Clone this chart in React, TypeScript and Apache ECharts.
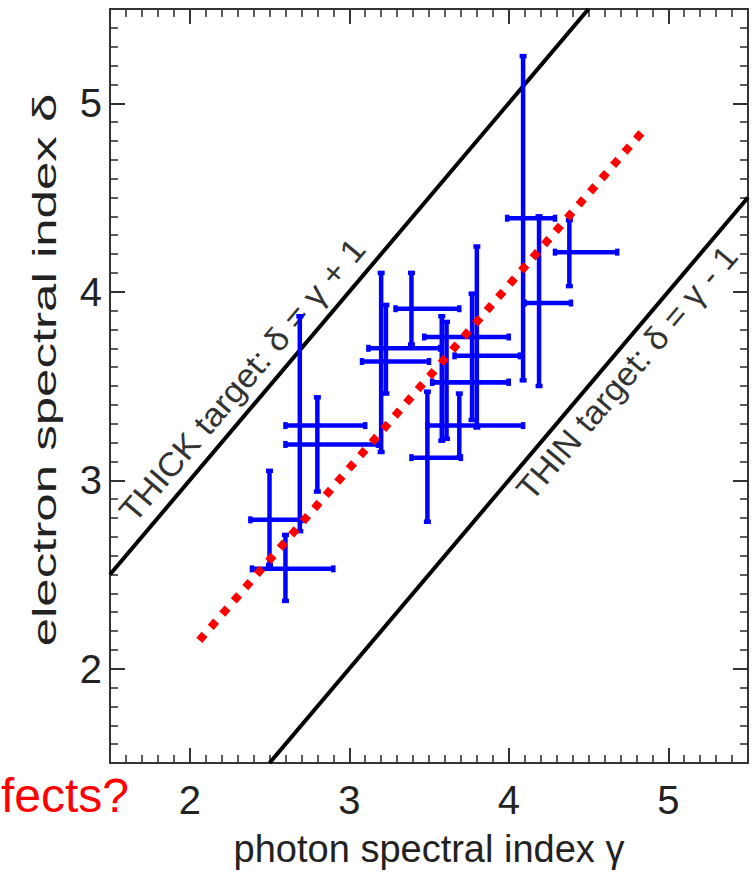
import React, { useEffect, useRef } from "react";
import * as echarts from "echarts";

// ---- data ----
const xTickValues = [2, 3, 4, 5];
const yTickValues = [2, 3, 4, 5];

// error-bar crosses: photon index gamma (x), electron index delta (y)
const gamma = [2.6, 2.5, 2.69, 2.8, 3.2, 3.23, 3.39, 3.49, 3.58, 3.61, 3.69, 3.77, 3.8, 4.09, 4.19, 4.38];
const delta = [2.53, 2.79, 3.29, 3.19, 3.63, 3.7, 3.91, 3.12, 3.52, 3.52, 3.29, 3.66, 3.76, 4.39, 3.94, 4.21];
const gammaLow = [2.39, 2.38, 2.6, 2.6, 3.08, 3.12, 3.29, 3.39, 3.52, 3.52, 3.49, 3.66, 3.47, 3.99, 4.1, 4.29];
const gammaHigh = [2.9, 2.7, 3.1, 3.18, 3.5, 3.57, 3.69, 3.7, 4.0, 4.0, 4.09, 4.07, 4.0, 4.29, 4.39, 4.68];
const deltaLow = [2.36, 2.55, 2.73, 2.94, 3.15, 3.46, 3.72, 2.78, 3.21, 3.22, 3.12, 3.32, 3.28, 3.53, 3.5, 4.03];
const deltaHigh = [2.71, 3.05, 3.87, 3.44, 4.1, 3.93, 4.1, 3.47, 3.87, 3.84, 3.46, 3.99, 4.24, 5.25, 4.4, 4.38];

// reference lines
const thickX = [1.5, 4.5];
const thickY = [2.5, 5.5]; // delta = gamma + 1
const thinX = [2.5, 5.5];
const thinY = [1.5, 4.5]; // delta = gamma - 1
const fitX = [2.06, 4.87];
const fitY = [2.15, 4.88];

const AX_MIN = 1.5;
const AX_MAX = 5.5;

const FONT = "'Liberation Sans', Arial, Helvetica, sans-serif";

function buildOption() {
  const gridRect = { left: 110, right: 5, top: 9, bottom: 112, containLabel: false };
  const axisLine = { show: true, onZero: false, lineStyle: { color: "#333", width: 2 } };
  const majorTick = (vals: number[]) => ({
    show: true,
    inside: true,
    length: 15,
    customValues: vals,
    lineStyle: { color: "#333", width: 2 },
  });
  const minorTick = { show: true, inside: true, length: 8, lineStyle: { color: "#333", width: 1.6 } };

  const xAxis = [
    {
      gridIndex: 0,
      type: "value",
      min: AX_MIN,
      max: AX_MAX,
      position: "bottom",
      axisLine,
      axisTick: majorTick(xTickValues),
      axisLabel: { show: true, customValues: xTickValues, fontSize: 40, color: "#222", margin: 17, fontFamily: FONT },
      splitLine: { show: false },
      name: "photon spectral index γ",
      nameLocation: "middle",
      nameGap: 67,
      nameTextStyle: { fontSize: 38, color: "#222", fontFamily: FONT },
    },
    {
      gridIndex: 0,
      type: "value",
      min: AX_MIN,
      max: AX_MAX,
      position: "top",
      axisLine,
      axisTick: majorTick(xTickValues),
      axisLabel: { show: false },
      splitLine: { show: false },
    },
    {
      gridIndex: 1,
      type: "value",
      min: AX_MIN,
      max: AX_MAX,
      interval: 0.1,
      position: "bottom",
      axisLine: { show: false, onZero: false },
      axisTick: minorTick,
      axisLabel: { show: false },
      splitLine: { show: false },
    },
    {
      gridIndex: 1,
      type: "value",
      min: AX_MIN,
      max: AX_MAX,
      interval: 0.1,
      position: "top",
      axisLine: { show: false, onZero: false },
      axisTick: minorTick,
      axisLabel: { show: false },
      splitLine: { show: false },
    },
  ];

  const yAxis = [
    {
      gridIndex: 0,
      type: "value",
      min: AX_MIN,
      max: AX_MAX,
      position: "left",
      axisLine,
      axisTick: majorTick(yTickValues),
      axisLabel: { show: true, customValues: yTickValues, fontSize: 40, color: "#222", margin: 8, fontFamily: FONT },
      splitLine: { show: false },
    },
    {
      gridIndex: 0,
      type: "value",
      min: AX_MIN,
      max: AX_MAX,
      position: "right",
      axisLine,
      axisTick: majorTick(yTickValues),
      axisLabel: { show: false },
      splitLine: { show: false },
    },
    {
      gridIndex: 1,
      type: "value",
      min: AX_MIN,
      max: AX_MAX,
      interval: 0.1,
      position: "left",
      axisLine: { show: false, onZero: false },
      axisTick: minorTick,
      axisLabel: { show: false },
      splitLine: { show: false },
    },
    {
      gridIndex: 1,
      type: "value",
      min: AX_MIN,
      max: AX_MAX,
      interval: 0.1,
      position: "right",
      axisLine: { show: false, onZero: false },
      axisTick: minorTick,
      axisLabel: { show: false },
      splitLine: { show: false },
    },
  ];

  const errRows = gamma.map((g, i) => [g, delta[i], gammaLow[i], gammaHigh[i], deltaLow[i], deltaHigh[i]]);

  const blue = { stroke: "#0000ff", lineWidth: 4.5 };
  const cap = 3.5;

  const angle = (49.7 * Math.PI) / 180;

  const txt = (text: string, size: number, fill: string, align: string, valign: string) => ({
    text,
    fontSize: size,
    fontFamily: FONT,
    fill,
    align,
    verticalAlign: valign,
    textAlign: align,
    textVerticalAlign: valign,
  });

  return {
    animation: false,
    backgroundColor: "#ffffff",
    grid: [gridRect, { ...gridRect }],
    xAxis,
    yAxis,
    series: [
      {
        type: "line",
        xAxisIndex: 0,
        yAxisIndex: 0,
        data: thickX.map((x, i) => [x, thickY[i]]),
        symbol: "none",
        lineStyle: { color: "#000", width: 4 },
        z: 2,
      },
      {
        type: "line",
        xAxisIndex: 0,
        yAxisIndex: 0,
        data: thinX.map((x, i) => [x, thinY[i]]),
        symbol: "none",
        lineStyle: { color: "#000", width: 4 },
        z: 2,
      },
      {
        type: "custom",
        xAxisIndex: 0,
        yAxisIndex: 0,
        data: errRows,
        encode: { x: [0, 2, 3], y: [1, 4, 5] },
        z: 3,
        renderItem: (params: any, api: any) => {
          const x = api.value(0);
          const y = api.value(1);
          const l = api.coord([api.value(2), y]);
          const r = api.coord([api.value(3), y]);
          const b = api.coord([x, api.value(4)]);
          const t = api.coord([x, api.value(5)]);
          return {
            type: "group",
            children: [
              { type: "line", shape: { x1: l[0], y1: l[1], x2: r[0], y2: r[1] }, style: blue },
              { type: "line", shape: { x1: t[0], y1: t[1], x2: b[0], y2: b[1] }, style: blue },
              { type: "line", shape: { x1: l[0], y1: l[1] - cap, x2: l[0], y2: l[1] + cap }, style: blue },
              { type: "line", shape: { x1: r[0], y1: r[1] - cap, x2: r[0], y2: r[1] + cap }, style: blue },
              { type: "line", shape: { x1: t[0] - cap, y1: t[1], x2: t[0] + cap, y2: t[1] }, style: blue },
              { type: "line", shape: { x1: b[0] - cap, y1: b[1], x2: b[0] + cap, y2: b[1] }, style: blue },
            ],
          };
        },
      },
      {
        type: "line",
        xAxisIndex: 0,
        yAxisIndex: 0,
        data: fitX.map((x, i) => [x, fitY[i]]),
        symbol: "none",
        lineStyle: { color: "#ff0000", width: 8, type: [8, 9.5], cap: "butt" },
        z: 4,
      },
    ],
    graphic: [
      {
        type: "text",
        x: 44,
        y: 370,
        rotation: Math.PI / 2,
        scaleX: 1.5,
        style: txt("electron spectral index δ", 34, "#222", "center", "middle"),
      },
      {
        type: "text",
        x: 242,
        y: 380,
        rotation: angle,
        scaleX: 1.06,
        style: txt("THICK target: δ = γ + 1", 33, "#333", "center", "middle"),
      },
      {
        type: "text",
        x: 627,
        y: 373,
        rotation: angle,
        scaleX: 1.04,
        style: txt("THIN target: δ = γ - 1", 33, "#333", "center", "middle"),
      },
      {
        type: "text",
        x: 1,
        y: 771,
        style: txt("fects?", 48, "#ff0000", "left", "top"),
      },
    ],
  };
}

export default function App() {
  const ref = useRef<HTMLDivElement>(null);
  useEffect(() => {
    if (!ref.current) return;
    const chart = echarts.init(ref.current, null, { renderer: "svg" });
    chart.setOption(buildOption() as any);
    return () => {
      chart.dispose();
    };
  }, []);
  return (
    <div
      ref={ref}
      style={{ position: "absolute", left: 0, top: 0, width: 753, height: 875, background: "#fff" }}
    />
  );
}
